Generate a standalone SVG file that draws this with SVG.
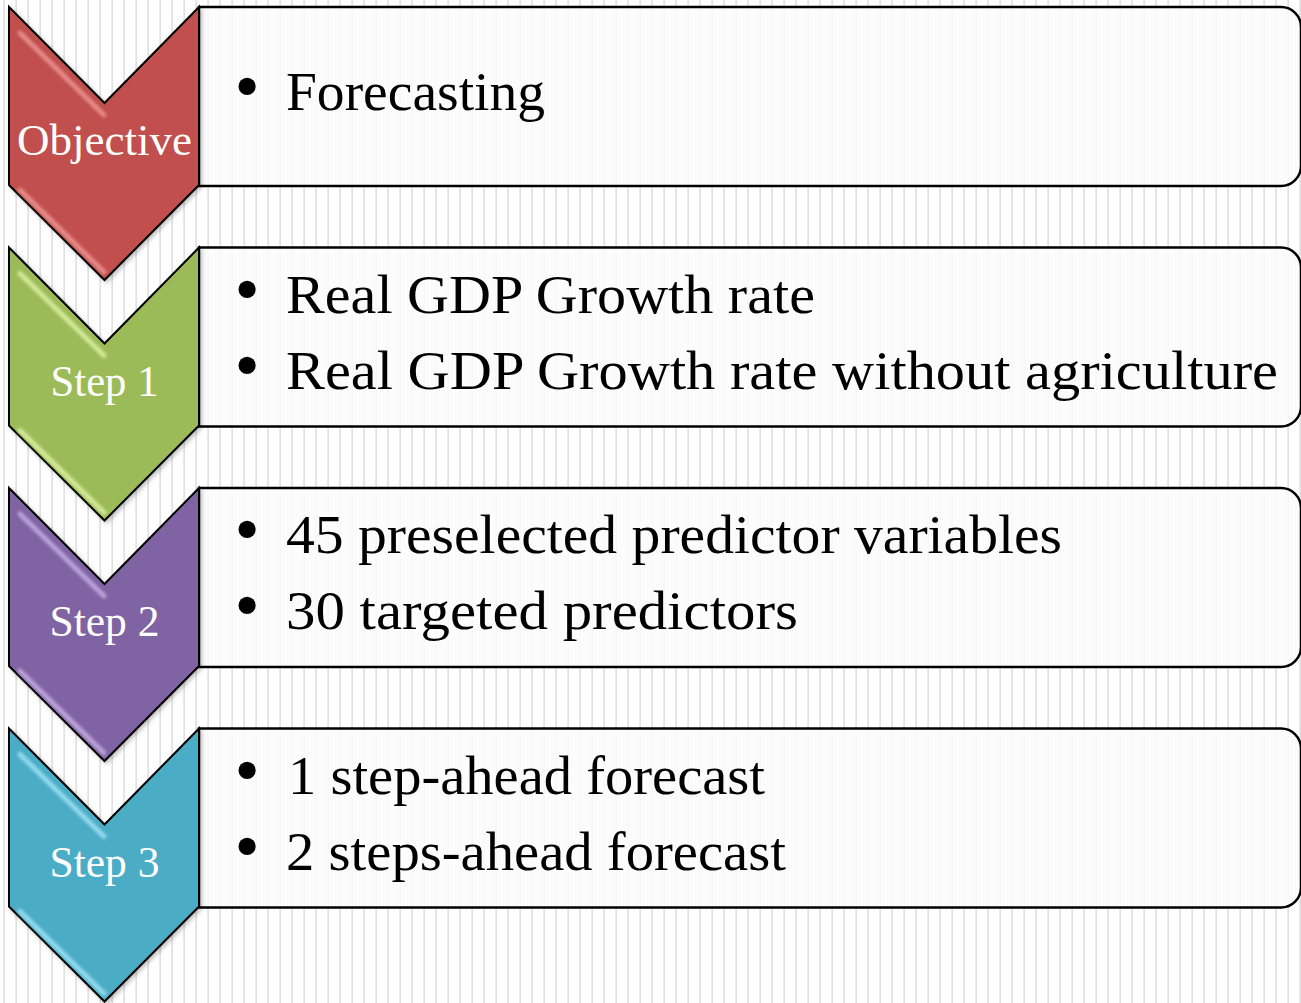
<svg xmlns="http://www.w3.org/2000/svg" width="1301" height="1003" viewBox="0 0 1301 1003">
  <defs>
    <pattern id="stripes" x="0" y="0" width="12" height="20" patternUnits="userSpaceOnUse">
      <rect x="3.3" y="0" width="1.7" height="20" fill="#e1e1e1"/>
    </pattern>
    <filter id="soft" x="-20%" y="-20%" width="140%" height="140%">
      <feGaussianBlur stdDeviation="1.6"/>
    </filter>
    <filter id="shade" x="-10%" y="-10%" width="130%" height="130%">
      <feGaussianBlur in="SourceAlpha" stdDeviation="2"/>
      <feOffset dx="1.5" dy="2"/>
      <feComponentTransfer><feFuncA type="linear" slope="0.25"/></feComponentTransfer>
      <feMerge><feMergeNode/><feMergeNode in="SourceGraphic"/></feMerge>
    </filter>
    <path id="chev" d="M9,0 L104.5,96 L199,0 L199,178 L104.5,273 L9,178 Z"/>
    <path id="card" d="M199,0 H1281 A20,20 0 0 1 1301,20 V159 A20,20 0 0 1 1281,179 H199 Z"/>
  </defs>
  <style>
    .card { fill: #fbfbfb; fill-opacity: 0.86; stroke: #000; stroke-width: 2.5; }
    .chev { stroke: #000; stroke-width: 2; stroke-linejoin: miter; }
    .hl { fill: none; stroke-width: 5; stroke-linecap: round; opacity: 0.8; }
    .lbl { font-family: "Liberation Serif", "DejaVu Serif", serif; font-size: 44px; fill: #fff; text-anchor: middle; }
    .item { font-family: "Liberation Serif", "DejaVu Serif", serif; font-size: 54px; fill: #000; }
    .dot { font-family: "Liberation Serif", "DejaVu Serif", serif; font-size: 72px; fill: #000; text-anchor: middle; }
  </style>

  <!-- striped backdrop -->
  <rect width="1301" height="1003" fill="#ffffff"/>
  <rect width="1301" height="1003" fill="url(#stripes)"/>

  <!-- Objective -->
  <g id="row-objective" transform="translate(0,7)">
    <use href="#card" class="card"/>
    <g filter="url(#shade)">
      <use href="#chev" class="chev" fill="#c0504d"/>
    </g>
    <path class="hl" stroke="#ef9a98" filter="url(#soft)" d="M20,26 L104,108"/>
    <path class="hl" stroke="#ef9a98" filter="url(#soft)" d="M20,183 L104,265"/>
    <text class="lbl" x="104.5" y="148" textLength="175" lengthAdjust="spacingAndGlyphs">Objective</text>
    <text class="dot" x="247" y="103">•</text>
    <text class="item" x="286" y="103" textLength="259" lengthAdjust="spacingAndGlyphs">Forecasting</text>
  </g>

  <!-- Step 1 -->
  <g id="row-step1" transform="translate(0,247.5)">
    <use href="#card" class="card"/>
    <g filter="url(#shade)">
      <use href="#chev" class="chev" fill="#9bbb59"/>
    </g>
    <path class="hl" stroke="#e2f5a8" filter="url(#soft)" d="M20,26 L104,108"/>
    <path class="hl" stroke="#e2f5a8" filter="url(#soft)" d="M20,183 L104,265"/>
    <text class="lbl" x="104.5" y="148" textLength="108" lengthAdjust="spacingAndGlyphs">Step 1</text>
    <text class="dot" x="247" y="65">•</text>
    <text class="item" x="286" y="65" textLength="529" lengthAdjust="spacingAndGlyphs">Real GDP Growth rate</text>
    <text class="dot" x="247" y="141">•</text>
    <text class="item" x="286" y="141" textLength="992" lengthAdjust="spacingAndGlyphs">Real GDP Growth rate without agriculture</text>
  </g>

  <!-- Step 2 -->
  <g id="row-step2" transform="translate(0,488)">
    <use href="#card" class="card"/>
    <g filter="url(#shade)">
      <use href="#chev" class="chev" fill="#8064a2"/>
    </g>
    <path class="hl" stroke="#c9b3ea" filter="url(#soft)" d="M20,26 L104,108"/>
    <path class="hl" stroke="#c9b3ea" filter="url(#soft)" d="M20,183 L104,265"/>
    <text class="lbl" x="104.5" y="148" textLength="110" lengthAdjust="spacingAndGlyphs">Step 2</text>
    <text class="dot" x="247" y="65">•</text>
    <text class="item" x="286" y="65" textLength="776" lengthAdjust="spacingAndGlyphs">45 preselected predictor variables</text>
    <text class="dot" x="247" y="141">•</text>
    <text class="item" x="286" y="141" textLength="512" lengthAdjust="spacingAndGlyphs">30 targeted predictors</text>
  </g>

  <!-- Step 3 -->
  <g id="row-step3" transform="translate(0,728.5)">
    <use href="#card" class="card"/>
    <g filter="url(#shade)">
      <use href="#chev" class="chev" fill="#4bacc6"/>
    </g>
    <path class="hl" stroke="#a6e6f6" filter="url(#soft)" d="M20,26 L104,108"/>
    <path class="hl" stroke="#a6e6f6" filter="url(#soft)" d="M20,183 L104,265"/>
    <text class="lbl" x="104.5" y="148" textLength="110" lengthAdjust="spacingAndGlyphs">Step 3</text>
    <text class="dot" x="247" y="65">•</text>
    <text class="item" x="288" y="65" textLength="477" lengthAdjust="spacingAndGlyphs">1 step-ahead forecast</text>
    <text class="dot" x="247" y="141">•</text>
    <text class="item" x="286" y="141" textLength="500" lengthAdjust="spacingAndGlyphs">2 steps-ahead forecast</text>
  </g>

  <!-- no connectors: the chevrons themselves carry the flow -->
  <g id="connectors"/>
</svg>
